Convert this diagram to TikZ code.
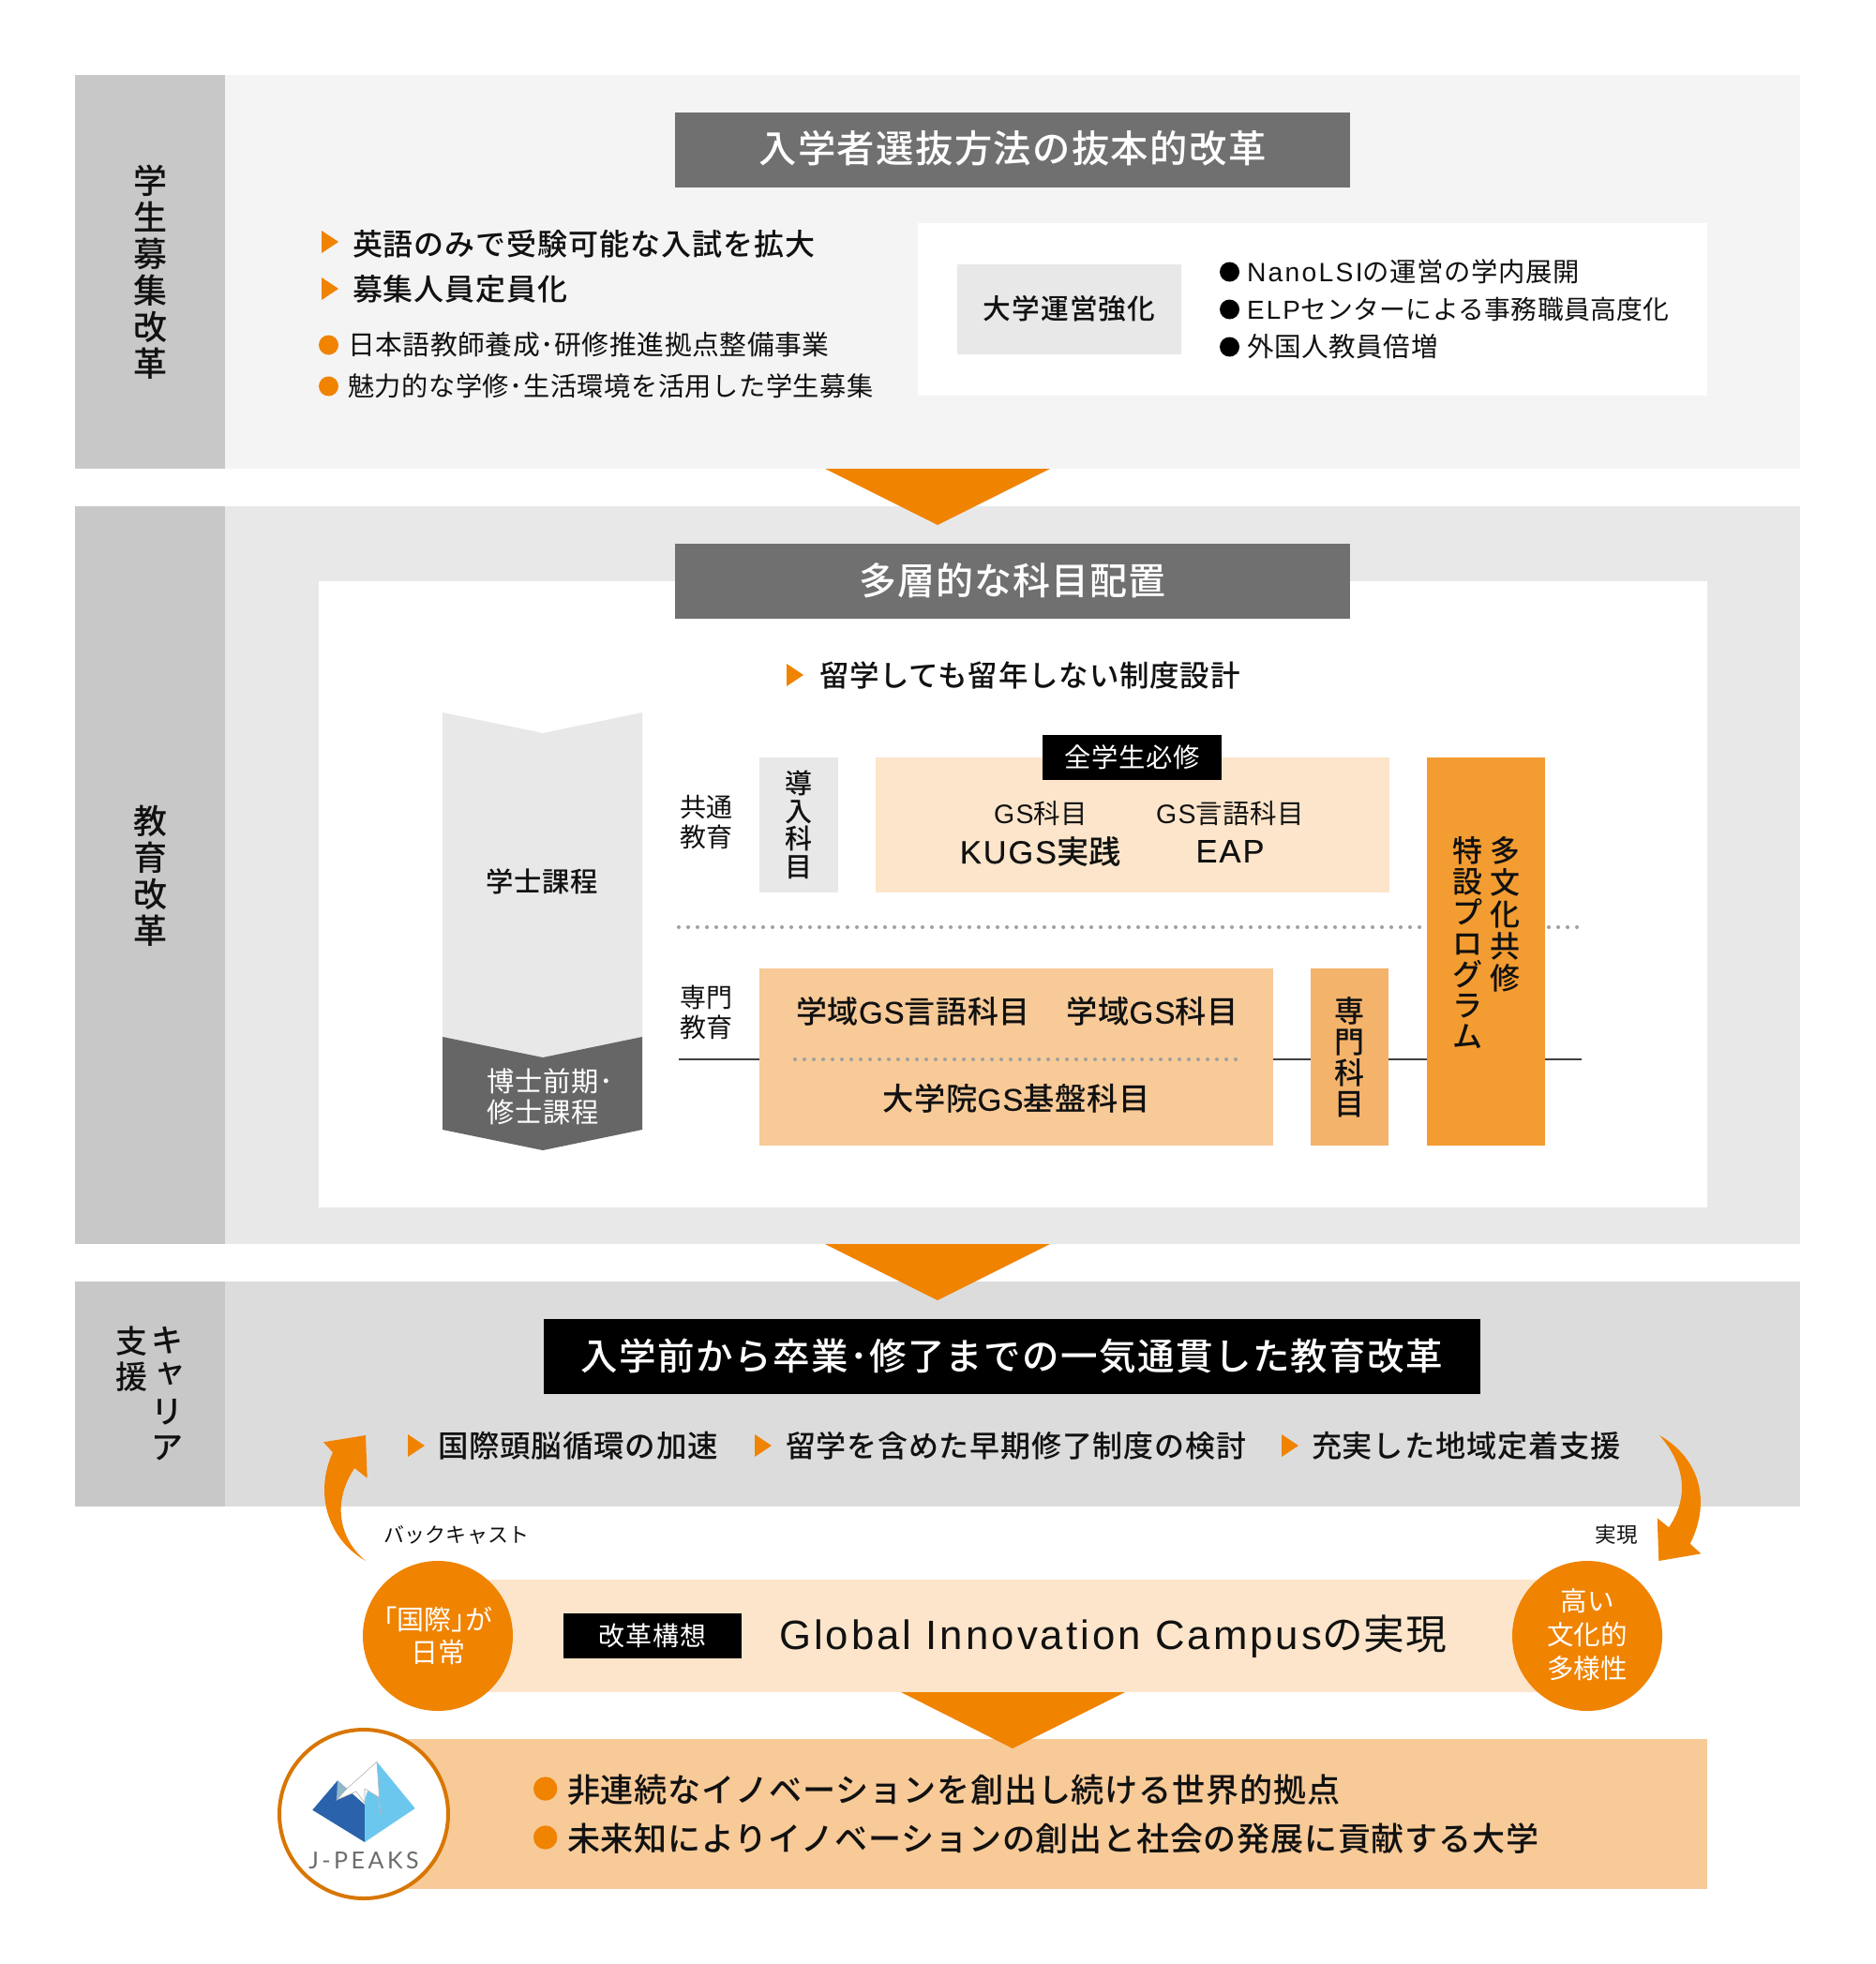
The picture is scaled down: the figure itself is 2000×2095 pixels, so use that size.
\documentclass[tikz,border=0pt]{standalone}
\usepackage{fontspec}
\setmainfont{Noto Sans CJK JP}
\newfontfamily\jpm{Noto Sans CJK JP Medium}
\newfontfamily\lat{Liberation Sans}
\newfontfamily\latm{Liberation Sans}[FakeBold=0.25]
\newfontfamily\logof{Lato}
\definecolor{lab}{HTML}{C8C8C8}
\definecolor{bgA}{HTML}{F4F4F4}
\definecolor{bgB}{HTML}{E8E8E8}
\definecolor{bgC}{HTML}{DCDCDC}
\definecolor{titl}{HTML}{717071}
\definecolor{org}{HTML}{F08300}
\definecolor{pale}{HTML}{FCE5CA}
\definecolor{mid}{HTML}{F7CA98}
\definecolor{midd}{HTML}{F4B36B}
\definecolor{deep}{HTML}{F39C31}
\definecolor{chev}{HTML}{666666}
\definecolor{txt}{HTML}{111111}
\definecolor{dotc}{HTML}{A0A0A0}
\definecolor{logoD}{HTML}{2A62AB}
\definecolor{logoL}{HTML}{6CC7EE}
\definecolor{logoG}{HTML}{8FB7C7}
\definecolor{logoT}{HTML}{6E6C6A}
\newcommand{\rbox}[6]{\pgfmathsetmacro\rw{#4-#2}\pgfmathsetmacro\rh{#5-#3}%
 \node[rectangle,inner sep=0pt,outer sep=0pt,fill=#6,minimum width=\rw pt,minimum height=\rh pt,anchor=north west] (#1) at (#2,#3) {};}
\newcommand{\fsz}[2][0]{\fontsize{#2}{#2}\selectfont\addfontfeature{LetterSpace=#1}}
\newcommand{\lt}[2][7]{{\lat\addfontfeature{LetterSpace=#1}#2}}
\newcommand{\ltm}[2][6]{{\latm\addfontfeature{LetterSpace=#1}#2}}
\tikzset{x=1pt,y=-1pt,
 tx/.style={inner sep=0pt,outer sep=0pt,text=txt},
 stack/.style={inner sep=0pt,outer sep=0pt,text=txt,align=center},
 dotline/.style={dotc,line width=4pt,line cap=round,dash pattern=on 0pt off 10pt},
 solidline/.style={black!75,line width=2pt},
 disc/.style={circle,fill=org,minimum size=160pt,inner sep=0pt,outer sep=0pt}}
\newcommand{\tri}[2]{\fill[org] (#1,#2-12) -- (#1+18,#2) -- (#1,#2+12) -- cycle;}
\begin{document}
\begin{tikzpicture}
\useasboundingbox (0,0) rectangle (2000,2095);
\fill[white] (0,0) rectangle (2000,2095);
% band 1
\rbox{bandA}{240}{80}{1920}{500}{bgA}
\rbox{labA}{80}{80}{240}{500}{lab}
\rbox{titleA}{720}{120}{1440}{200}{titl}
\node[tx,text=white,yshift=1.5pt] (titleAt) at (titleA.center) {\jpm\fsz[3.5]{40.3}入学者選抜方法の抜本的改革};
\node[stack,font=\jpm\fontsize{36}{38.9}\selectfont] (labAt) at (160,290) {学\\生\\募\\集\\改\\革};
\tri{343}{258}\tri{343}{308}
\node[tx,anchor=west] (a1) at (376,260) {\jpm\fsz[3]{32}英語のみで受験可能な入試を拡大};
\node[tx,anchor=west] (a2) at (376,308) {\jpm\fsz[3]{32}募集人員定員化};
\fill[org] (350.5,368) circle (10.5) (350.5,412) circle (10.5);
\node[tx,anchor=west] (a3) at (371,368) {\fsz[2]{28.8}日本語教師養成･研修推進拠点整備事業};
\node[tx,anchor=west] (a4) at (371,412) {\fsz[2]{28.2}魅力的な学修･生活環境を活用した学生募集};
\rbox{whA}{979}{238}{1821}{422}{white}
\rbox{unei}{1021}{282}{1260}{378}{bgB}
\node[tx,yshift=1pt] (uneit) at (unei.center) {\jpm\fsz[3.5]{29.7}大学運営強化};
\fill[black] (1311.5,290) circle (10.5) (1311.5,330) circle (10.5) (1311.5,370) circle (10.5);
\node[tx,anchor=west] (b1) at (1330,290) {\fsz[2.5]{28.3}\lt[8]{NanoLSI}の運営の学内展開};
\node[tx,anchor=west] (b2) at (1330,330) {\fsz[1.5]{27.8}\lt[8]{ELP}センターによる事務職員高度化};
\node[tx,anchor=west] (b3) at (1330,370) {\fsz[2]{28.6}外国人教員倍増};
% band 2
\rbox{bandB}{240}{540}{1920}{1327}{bgB}
\rbox{labB}{80}{540}{240}{1327}{lab}
\fill[org] (880,500) -- (1120,500) -- (1000,560) -- cycle;
\rbox{whB}{340}{620}{1821}{1288}{white}
\rbox{titleB}{720}{580}{1440}{660}{titl}
\node[tx,text=white,yshift=1pt] (titleBt) at (titleB.center) {\jpm\fsz[2.5]{40}多層的な科目配置};
\node[stack,font=\jpm\fontsize{36}{38.9}\selectfont] (labBt) at (160,934) {教\\育\\改\\革};
\tri{839}{720}
\node[tx,anchor=west] (c0) at (874,720) {\jpm\fsz[2.5]{31.5}留学しても留年しない制度設計};
% chevrons
\fill[bgB] (472,760) -- (579,782) -- (685,760) -- (685,1130) -- (472,1130) -- cycle;
\fill[chev] (472,1106) -- (579,1128) -- (685,1106) -- (685,1205) -- (579,1227) -- (472,1205) -- cycle;
\node[tx] (gakushi) at (578,940) {\jpm\fsz[3]{29.3}学士課程};
\node[stack,align=left,text=white,anchor=west,font=\fontsize{29.3}{32.5}\selectfont\addfontfeature{LetterSpace=3}] (hakase) at (519,1170) {博士前期･\\修士課程};
% lines
\coordinate (dl) at (724,989);\coordinate (dr) at (1688,989);
\coordinate (sl) at (724,1130);\coordinate (sr) at (1687,1130);
\rbox{dounyu}{810}{808}{894}{952}{bgB}
\rbox{paleBox}{934}{808}{1482}{952}{pale}
\rbox{gsBox}{810}{1033}{1358}{1222}{mid}
\rbox{senmon}{1398}{1033}{1481}{1222}{midd}
\rbox{tabunka}{1522}{808}{1648}{1222}{deep}
\rbox{zen}{1112}{784}{1303}{832}{black}
\draw[dotline] (dl) -- ([xshift=-4pt]dl -| tabunka.west);
\draw[dotline] ([xshift=4pt]tabunka.east |- dl) -- (dr);
\coordinate (il) at (848,1130);\coordinate (ir) at (1320,1130);
\draw[dotline] (il) -- (ir);
\draw[solidline] (sl) -- (sl -| gsBox.west);
\draw[solidline] (gsBox.east |- sl) -- (sl -| senmon.west);
\draw[solidline] (senmon.east |- sl) -- (sl -| tabunka.west);
\draw[solidline] (tabunka.east |- sl) -- (sr);
\node[stack,font=\fontsize{28}{31.5}\selectfont] (kyotsu) at (753,877) {共通\\教育};
\node[stack,font=\fontsize{28}{31.5}\selectfont] (senmt) at (753,1080) {専門\\教育};
\node[stack,font=\jpm\fontsize{29}{29.5}\selectfont] (dounyut) at (852,880) {導\\入\\科\\目};
\node[tx,text=white] (zent) at (zen.center) {\fsz[3]{28.3}全学生必修};
\node[tx] (gs1) at (1110,868) {\fsz[1]{28.5}\lt[5]{GS}科目};
\node[tx] (gs2) at (1312,868) {\fsz[1.5]{28.5}\lt[5]{GS}言語科目};
\node[tx] (gs3) at (1110,908) {\jpm\fsz[2]{34.2}\ltm{KUGS}実践};
\node[tx] (gs4) at (1312,908) {\jpm\fsz[2]{34.5}\ltm{EAP}};
\node[tx] (g1) at (974,1079) {\jpm\fsz[2]{33}学域\ltm[3]{GS}言語科目};
\node[tx] (g2) at (1229,1079) {\jpm\fsz[2]{33.3}学域\ltm[3]{GS}科目};
\node[tx] (g3) at (1084,1172) {\jpm\fsz[2]{33.3}大学院\ltm[3]{GS}基盤科目};
\node[stack,font=\jpm\fontsize{32}{33}\selectfont] (sent) at (1439,1128) {専\\門\\科\\目};
\node[stack,anchor=north,font=\jpm\fontsize{32}{34}\selectfont] (tb1) at (1605,892) {多\\文\\化\\共\\修};
\node[stack,anchor=north,font=\jpm\fontsize{32}{33}\selectfont] (tb2) at (1565,892) {特\\設\\プ\\ロ\\グ\\ラ\\ム};
% band 3
\rbox{bandC}{240}{1367}{1920}{1607}{bgC}
\rbox{labC}{80}{1367}{240}{1607}{lab}
\fill[org] (880,1327) -- (1120,1327) -- (1000,1387) -- cycle;
\rbox{titleC}{580}{1407}{1579}{1487}{black}
\node[tx,text=white] (titleCt) at (titleC.center) {\jpm\fsz[3.5]{39.5}入学前から卒業･修了までの一気通貫した教育改革};
\node[stack,anchor=north,font=\jpm\fontsize{34}{38}\selectfont] (labC1) at (178,1415) {キ\\\raisebox{6pt}[0pt][0pt]{\hspace{7pt}ャ}\\リ\\ア};
\node[stack,anchor=north,font=\jpm\fontsize{34}{38}\selectfont] (labC2) at (140,1415) {支\\援};
\tri{435}{1542}\tri{805}{1542}\tri{1367}{1542}
\node[tx,anchor=west] (d1) at (467,1542) {\jpm\fsz[2.5]{32.5}国際頭脳循環の加速};
\node[tx,anchor=west] (d2) at (838,1542) {\jpm\fsz[2.5]{32}留学を含めた早期修了制度の検討};
\node[tx,anchor=west] (d3) at (1399,1542) {\jpm\fsz[2.5]{32.2}充実した地域定着支援};
% curved arrows
\fill[org] (390,1665) .. controls (347,1640) and (336,1590) .. (355,1549.3) -- (345,1538.3) -- (390,1531) -- (391.7,1576.7) -- (378.3,1566) .. controls (355,1600) and (360,1640) .. (390,1665) -- cycle;
\fill[org] (1770,1531) .. controls (1812,1555) and (1826,1600) .. (1802.7,1646.7) -- (1814.3,1657.3) -- (1769.3,1665) -- (1767.7,1619.3) -- (1780,1629.3) .. controls (1800,1600) and (1800,1565) .. (1770,1531) -- cycle;
\node[tx] (back) at (487,1637) {\fsz[1]{22}バックキャスト};
\node[tx] (jitsu) at (1724,1637) {\fsz[1]{22.5}実現};
% lower band
\rbox{gic}{466}{1685}{1693}{1805}{pale}
\node[disc] (cL) at (467,1745) {};
\node[disc] (cR) at (1693,1745) {};
\node[stack,text=white,font=\fontsize{29}{35}\selectfont] (cLt) at (467,1745) {｢国際｣が\\日常};
\node[stack,text=white,font=\fontsize{28.5}{36}\selectfont] (cRt) at (1693,1744) {高い\\文化的\\多様性};
\rbox{kai}{601}{1721}{791}{1769}{black}
\node[tx,text=white] (kait) at (kai.center) {\fsz[3]{28}改革構想};
\node[tx,anchor=west] (gict) at (831,1746) {\fsz[2]{43.7}\lt[7]{Global Innovation Campus}の実現};
% bottom
\rbox{botB}{388}{1855}{1821}{2015}{mid}
\fill[org] (961,1805) -- (1200,1805) -- (1080,1865) -- cycle;
\node[circle,fill=white,draw=org!90!black,line width=4pt,minimum size=180pt,inner sep=0pt,outer sep=0pt] (logo) at (388,1935) {};
\fill[org] (581.7,1908) circle (12.7) (581.7,1960) circle (12.7);
\node[tx,anchor=west] (e1) at (605,1909) {\jpm\fsz[2.3]{35.1}非連続なイノベーションを創出し続ける世界的拠点};
\node[tx,anchor=west] (e2) at (605,1961) {\jpm\fsz[2.3]{35}未来知によりイノベーションの創出と社会の発展に貢献する大学};
% logo mark
\fill[logoD] (333.3,1930.7) -- (360,1899.3) -- (389,1925) -- (389,1965) -- cycle;
\fill[logoL] (402,1879.3) -- (442.7,1929) -- (389,1965) -- (389,1920) -- cycle;
\fill[logoG] (360,1899.3) -- (370,1908) -- (359,1920) -- cycle;
\filldraw[fill=white,draw=black!30,line width=.6pt] (402,1879.3) -- (370,1908) -- (359,1920) -- (380,1911) -- (389,1923) -- (389,1908) -- (404,1917) -- (405.7,1935.7) -- cycle;
\node[tx,text=logoT] (logot) at (388,1985) {\logof\fsz[14]{25}J-PEAKS};
\end{tikzpicture}
\end{document}
